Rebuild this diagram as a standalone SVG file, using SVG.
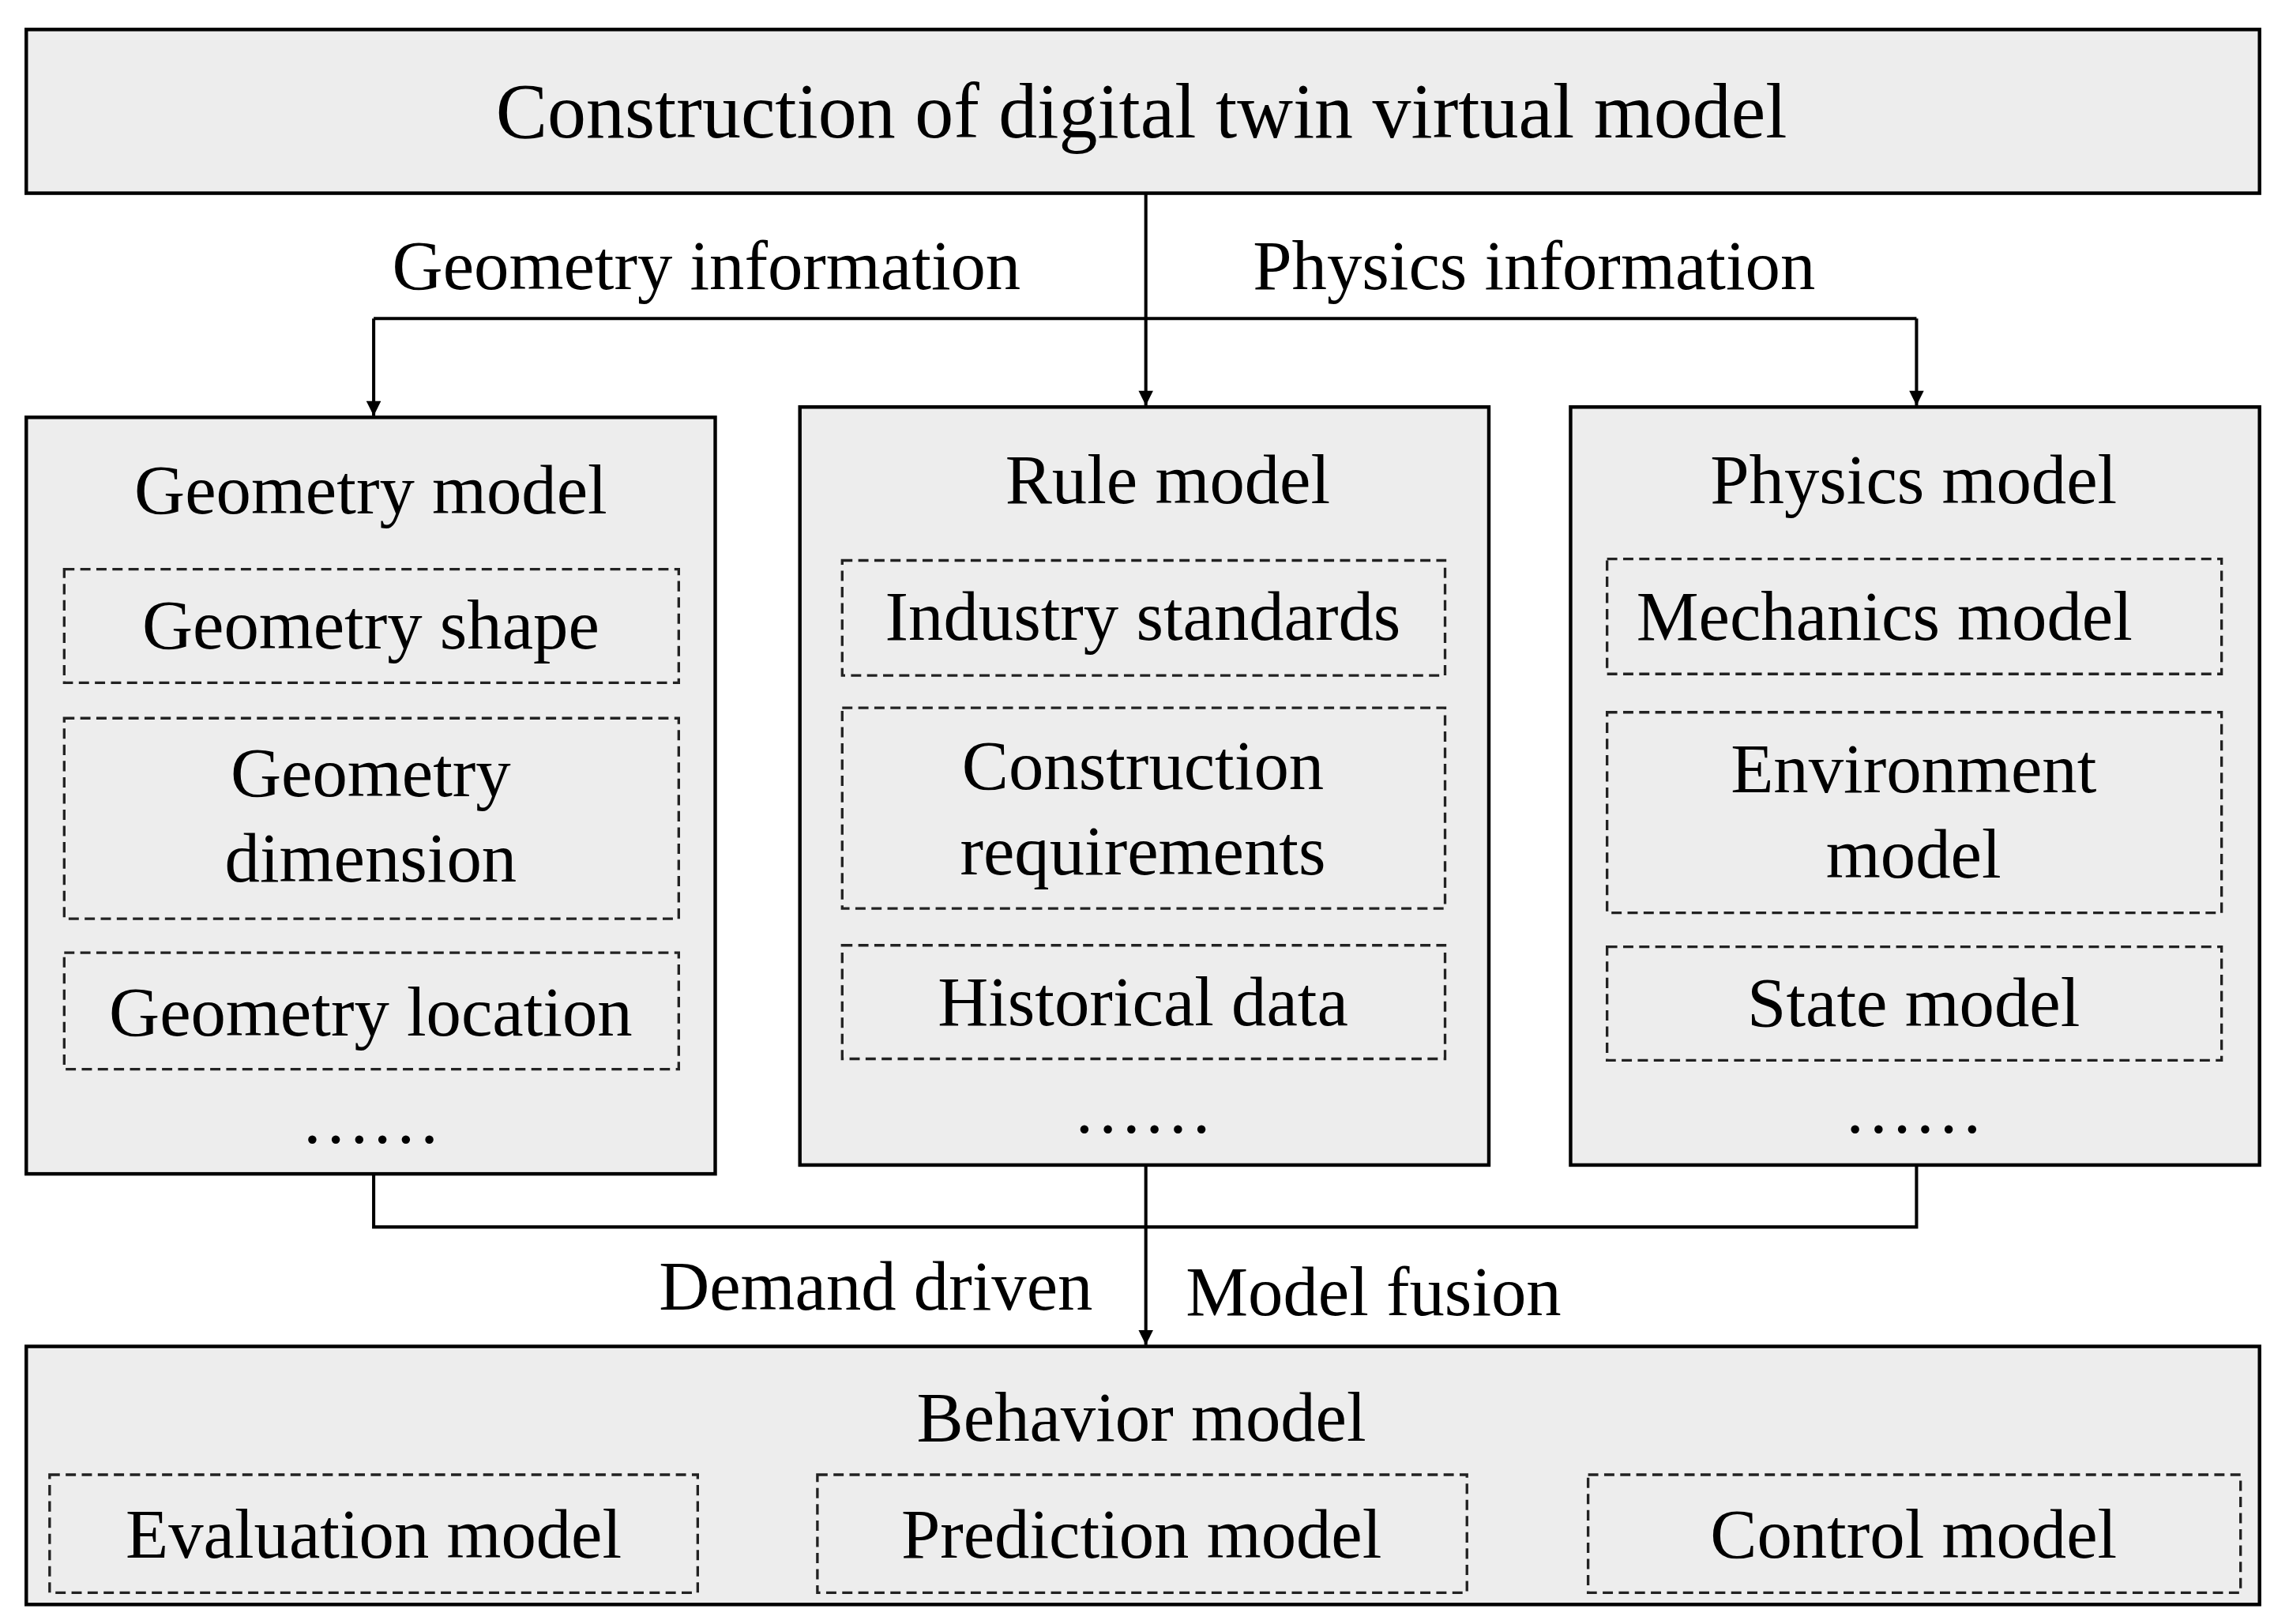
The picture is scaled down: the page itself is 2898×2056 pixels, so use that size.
<svg xmlns="http://www.w3.org/2000/svg" width="2898" height="2056" viewBox="0 0 2898 2056">
<style>
.box{fill:#ededed;stroke:#000;stroke-width:2.4}
.dash{fill:none;stroke:#222;stroke-width:1.8;stroke-dasharray:7 4}
.t{font-family:"Liberation Serif",serif;font-size:48px;fill:#000;text-anchor:middle}
.ln{fill:none;stroke:#000;stroke-width:2.2}
</style>
<defs><marker id="a" viewBox="0 0 10 10" refX="10" refY="5" markerWidth="14" markerHeight="10" orient="auto" markerUnits="userSpaceOnUse"><path d="M0,0 L10,5 L0,10 z" fill="#000"/></marker></defs>
<rect width="2898" height="2056" fill="#fff"/>
<g transform="scale(1.848 1.867)">
<g id="top"><rect class="box" x="18" y="20" width="1530" height="111"/><text class="t" x="782" y="93" style="font-size:53px">Construction of digital twin virtual model</text></g>
<g id="connectors">
<path class="ln" d="M785,131 V275" marker-end="url(#a)"/>
<path class="ln" d="M256,216 H1313"/>
<path class="ln" d="M256,216 V282" marker-end="url(#a)"/>
<path class="ln" d="M1313,216 V275" marker-end="url(#a)"/>
<path class="ln" d="M256,796 V832 H1313 V790"/>
<path class="ln" d="M785,790 V912" marker-end="url(#a)"/>
<text class="t" x="484" y="196">Geometry information</text>
<text class="t" x="1051" y="196">Physics information</text>
<text class="t" x="600" y="888">Demand driven</text>
<text class="t" x="941" y="892">Model fusion</text>
</g>
<g id="geometry"><rect class="box" x="18" y="283" width="472" height="513"/>
<text class="t" x="254" y="348">Geometry model</text>
<rect class="dash" x="44" y="386" width="421" height="77"/><text class="t" x="254" y="440">Geometry shape</text>
<rect class="dash" x="44" y="487" width="421" height="136"/><text class="t" x="254" y="540">Geometry</text><text class="t" x="254" y="598">dimension</text>
<rect class="dash" x="44" y="646" width="421" height="79"/><text class="t" x="254" y="702">Geometry location</text>
<text class="t" x="254" y="775">……</text></g>
<g id="rule"><rect class="box" x="548" y="276" width="472" height="514"/>
<text class="t" x="800" y="341">Rule model</text>
<rect class="dash" x="577" y="380" width="413" height="78"/><text class="t" x="783" y="434">Industry standards</text>
<rect class="dash" x="577" y="480" width="413" height="136"/><text class="t" x="783" y="535">Construction</text><text class="t" x="783" y="593">requirements</text>
<rect class="dash" x="577" y="641" width="413" height="77"/><text class="t" x="783" y="695">Historical data</text>
<text class="t" x="783" y="768">……</text></g>
<g id="physics"><rect class="box" x="1076" y="276" width="472" height="514"/>
<text class="t" x="1311" y="341">Physics model</text>
<rect class="dash" x="1101" y="379" width="421" height="78"/><text class="t" x="1291" y="434">Mechanics model</text>
<rect class="dash" x="1101" y="483" width="421" height="136"/><text class="t" x="1311" y="537">Environment</text><text class="t" x="1311" y="595">model</text>
<rect class="dash" x="1101" y="642" width="421" height="77"/><text class="t" x="1311" y="696">State model</text>
<text class="t" x="1311" y="768">……</text></g>
<g id="behavior"><rect class="box" x="18" y="913" width="1530" height="175"/>
<text class="t" x="782" y="977">Behavior model</text>
<rect class="dash" x="34" y="1000" width="444" height="80"/><text class="t" x="256" y="1056">Evaluation model</text>
<rect class="dash" x="560" y="1000" width="445" height="80"/><text class="t" x="782" y="1056">Prediction model</text>
<rect class="dash" x="1088" y="1000" width="447" height="80"/><text class="t" x="1311" y="1056">Control model</text></g>
</g>
</svg>
